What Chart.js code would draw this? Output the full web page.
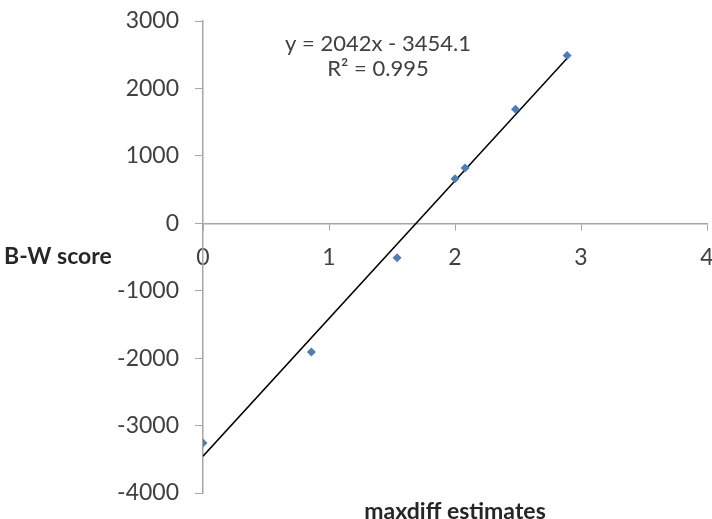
<!DOCTYPE html>
<html>
<head>
<meta charset="utf-8">
<script src="https://cdn.jsdelivr.net/npm/chart.js@4.4.1/dist/chart.umd.min.js"></script>
<style>
  html, body { margin: 0; padding: 0; background: #fff; }
  #wrap { width: 712px; height: 519px; position: relative; }
</style>
</head>
<body>
<div id="wrap"><canvas id="c" width="712" height="519"></canvas></div>
<script>
// Data
const maxdiffEstimates = [0, 0.86, 1.54, 2.0, 2.08, 2.48, 2.89];
const bwScores = [-3260, -1910, -510, 660, 820, 1690, 2490];
// Linear trend line end points (y = 2042x - 3454.1)
const trendX = [0, 2.89];
const trendY = [-3454.1, 2447.3];
const equationText = "y = 2042x - 3454.1";
const r2Text = "R\u00B2 = 0.995";
const xTitle = "maxdiff estimates";
const yTitle = "B-W score";

const FONT = "Lato, 'Open Sans', sans-serif";
const TEXT = "#404040";
const AXIS = "#a6a6a6";

const labelsPlugin = {
  id: 'labels',
  afterDraw(chart) {
    const ctx = chart.ctx;
    ctx.save();
    ctx.fillStyle = TEXT;
    ctx.font = "22px " + FONT;
    ctx.textAlign = 'center';
    ctx.textBaseline = 'middle';
    ctx.fillText(equationText, 378, 44);
    ctx.fillText(r2Text, 378, 69);
    ctx.font = "bold 23px " + FONT;
    ctx.fillStyle = "#262626";
    ctx.textAlign = 'left';
    ctx.fillText(yTitle, 4, 257);
    ctx.textAlign = 'center';
    ctx.fillText(xTitle, 455, 512);
    ctx.restore();
  }
};

new Chart(document.getElementById('c'), {
  type: 'scatter',
  data: {
    datasets: [
      {
        label: 'trend',
        type: 'line',
        data: trendX.map((x, i) => ({ x: x, y: trendY[i] })),
        borderColor: '#000',
        borderWidth: 1.5,
        pointRadius: 0,
        fill: false,
        order: 2
      },
      {
        label: 'B-W score',
        data: maxdiffEstimates.map((x, i) => ({ x: x, y: bwScores[i] })),
        pointStyle: 'rectRot',
        pointRadius: 4.5,
        backgroundColor: '#4a7ebb',
        borderColor: '#4a7ebb',
        borderWidth: 0,
        order: 1
      }
    ]
  },
  options: {
    responsive: false,
    animation: false,
    devicePixelRatio: 1,
    layout: { padding: { top: 21, bottom: 26, left: 0, right: 5 } },
    plugins: { legend: { display: false }, tooltip: { enabled: false } },
    scales: {
      x: {
        type: 'linear',
        position: { y: 0 },
        min: 0, max: 4,
        ticks: { stepSize: 1, color: TEXT, font: { size: 23, family: FONT }, padding: 14,
                 callback: v => String(v) },
        grid: { drawOnChartArea: false, color: AXIS, tickLength: 6 },
        border: { color: AXIS, width: 1.5 },
        afterFit(scale) { scale.paddingLeft = 0; scale.paddingRight = 0; }
      },
      y: {
        type: 'linear',
        position: 'left',
        min: -4000, max: 3000,
        ticks: { stepSize: 1000, color: TEXT, font: { size: 23, family: FONT }, padding: 16,
                 callback: v => String(v) },
        grid: { drawOnChartArea: false, color: AXIS, tickLength: 8 },
        border: { color: AXIS, width: 1.5 },
        afterFit(scale) { scale.width = 203; scale.paddingTop = 0; scale.paddingBottom = 0; }
      }
    }
  },
  plugins: [labelsPlugin]
});
</script>
</body>
</html>
